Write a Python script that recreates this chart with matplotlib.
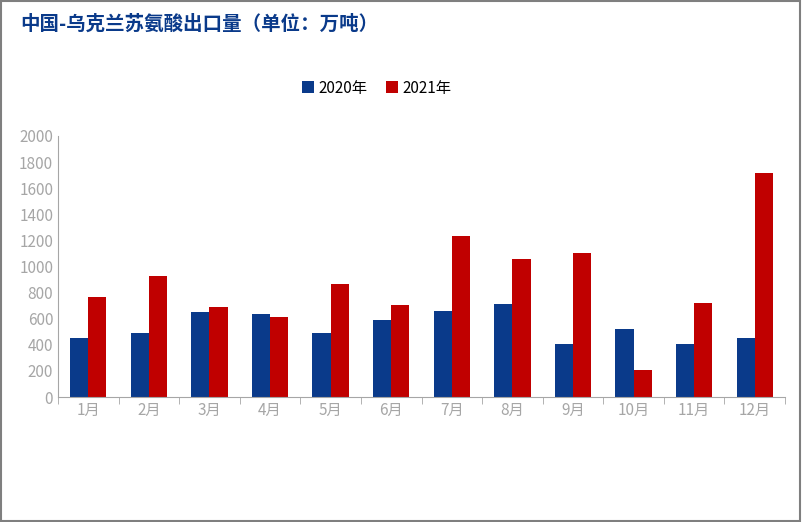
import matplotlib
matplotlib.use("Agg")
import matplotlib.pyplot as plt
import numpy as np

plt.rcParams['font.family'] = ['Noto Sans CJK SC', 'DejaVu Sans']

months = [f"{i}月" for i in range(1, 13)]
s2020 = [450, 490, 650, 635, 490, 590, 660, 710, 405, 520, 405, 450]
s2021 = [765, 930, 690, 615, 865, 705, 1230, 1055, 1105, 205, 720, 1715]
series_names = ["2020年", "2021年"]

fig = plt.figure(figsize=(8.02, 5.22), dpi=100)
ax = fig.add_axes([58/802, 1-397/522, (785-58)/802, (397-136)/522])
x = np.arange(12)
w = 0.3
ax.bar(x - w/2, s2020, w, color='#0a3a8a', label=series_names[0])
ax.bar(x + w/2, s2021, w, color='#c00000', label=series_names[1])
ax.set_xlim(-0.5, 11.5)
ax.set_ylim(0, 2000)
ax.set_yticks(range(0, 2001, 200))
ax.set_xticks(x)
ax.set_xticklabels(months)
ax.tick_params(colors='#a6a6a6', labelsize=11, length=0)
ax.set_xticks(np.arange(-0.5, 12, 1), minor=True)
ax.tick_params(axis='x', which='minor', length=5, color='#a6a6a6')
for s in ['top', 'right']:
    ax.spines[s].set_visible(False)
ax.spines['left'].set_color('#a6a6a6')
ax.spines['bottom'].set_color('#a6a6a6')
fig.legend(loc='center', bbox_to_anchor=(0.47, 1-88/522), ncol=2, frameon=False,
           fontsize=11, handlelength=0.8, handleheight=0.8, columnspacing=1.2, handletextpad=0.3)
fig.text(20/802, 1-24/522, "中国-乌克兰苏氨酸出口量（单位：万吨）", color='#0a3a8a',
         fontsize=14, fontweight='bold', va='center')
fig.add_artist(plt.Rectangle((0.001, 0.001), 0.997, 0.997, transform=fig.transFigure,
                             fill=False, edgecolor='#7f7f7f', lw=1.5))
fig.savefig("out.png", dpi=100)
